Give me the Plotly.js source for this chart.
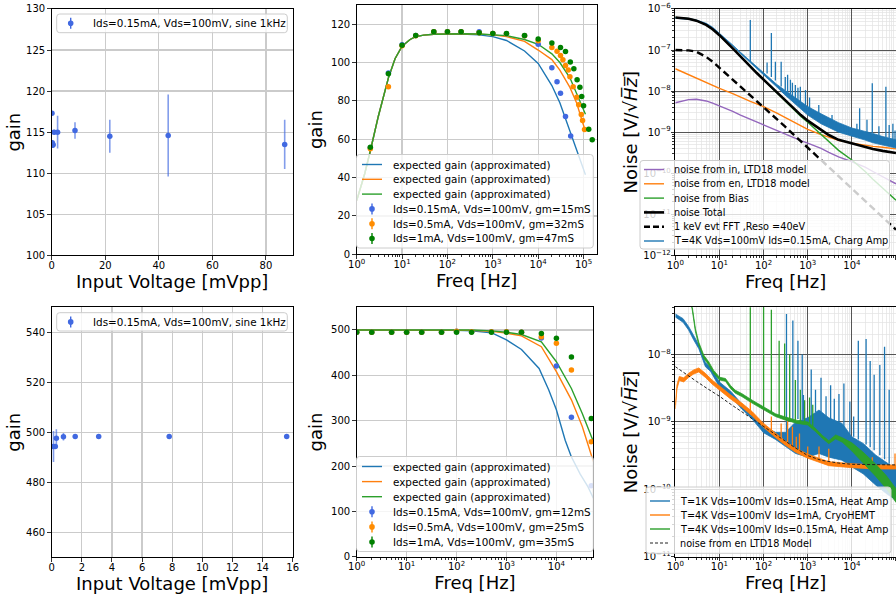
<!DOCTYPE html>
<html><head><meta charset="utf-8">
<script src="https://cdn.plot.ly/plotly-3.0.1.min.js"></script>
<style>html,body{margin:0;padding:0;background:#fff;overflow:hidden;} #chart{width:896px;height:599px;}</style>
</head><body><div id="chart"></div>
<script>
// ---------------- DATA ----------------
// Top-left: gain vs input voltage (sine 1 kHz)
const tlVin  = [0.1, 0.2, 0.4, 0.5, 0.9, 2.2, 8.7, 21.7, 43.5, 87];
const tlGain = [117.3, 113.7, 113.4, 113.5, 115.0, 115.0, 115.2, 114.5, 114.6, 113.5];
const tlErr  = [0.2, 0.3, 0.3, 0.3, 0.3, 2.0, 1.0, 2.0, 5.0, 3.0];

// Bottom-left
const blVin  = [0.12, 0.24, 0.31, 0.78, 1.56, 3.12, 7.8, 15.6];
const blGain = [494.3, 494.3, 497.6, 498.2, 498.3, 498.3, 498.3, 498.3];
const blErr  = [6.2, 0.5, 3.6, 1.5, 0.3, 0.3, 0.3, 0.3];

// Top-middle: expected gain curves
const tmFitFreq = [1, 1.5, 2, 3, 5, 7, 10, 15, 20, 30, 50, 100, 200, 500, 1000, 2000, 5000, 1e4, 2e4, 3e4, 5e4, 7e4, 1e5, 1.1e5];
const tmFit15 = [28, 42, 54, 72, 92, 102, 108.5, 112, 113.5, 114.3, 114.7, 114.9, 114.8, 114.4, 113.5, 111.5, 106, 99.5, 88, 79, 64, 54, 44, 41.5];
const tmFit32 = [28, 42, 54, 72, 92, 102, 108.5, 112, 113.5, 114.3, 114.7, 115, 115, 114.8, 114.4, 113.5, 111, 106.5, 101.5, 96, 87, 79, 68, 64];
const tmFit47 = [28, 42, 54, 72, 92, 102, 108.5, 112, 113.5, 114.3, 114.7, 115, 115, 114.9, 114.6, 114, 112, 109.5, 104.5, 100, 92, 84, 75, 73];
// Top-middle: measured points
const tmFreq15 = [2, 5, 10, 20, 50, 100, 200, 500, 1000, 2000, 5000, 1e4, 2e4, 2.6e4, 3.1e4, 4e4, 5.2e4];
const tmGain15 = [55.6, 94.5, 109.3, 114.1, 116.0, 116.0, 116.0, 116.0, 115.1, 115.0, 114.0, 109.5, 97.2, 90.0, 84.0, 71.8, 61.7];
const tmFreq32 = [2, 5, 10, 20, 50, 100, 200, 500, 1000, 2000, 5000, 1e4, 2e4, 2.6e4, 3.1e4, 3.5e4, 4e4, 4.6e4, 5e4, 5.9e4, 7.1e4, 7.8e4, 8.9e4, 9.5e4, 1.05e5];
const tmGain32 = [55.0, 87.3, 108.7, 114.0, 116.0, 116.0, 116.0, 115.5, 115.1, 115.0, 114.0, 111.3, 107.8, 105.9, 103.6, 101.4, 98.5, 96.1, 92.6, 87.4, 81.9, 78.0, 72.9, 69.8, 65.1];
const tmFreq47 = [2, 5, 10, 20, 50, 100, 200, 500, 1000, 2000, 5000, 1e4, 2e4, 3.1e4, 4e4, 5.1e4, 6.1e4, 7.2e4, 8.3e4, 9.1e4, 1e5, 1.3e5, 1.55e5];
const tmGain47 = [55.8, 94.1, 109.0, 114.1, 116.0, 116.0, 116.0, 115.5, 115.1, 115.1, 114.1, 112.3, 110.2, 107.8, 105.7, 100.3, 96.7, 91.0, 87.1, 82.3, 77.4, 65.2, 59.7];

// Bottom-middle: expected gain curves
const bmFitFreq12 = [1, 10, 100, 200, 500, 1000, 2000, 4500, 7000, 1e4, 1.5e4, 2e4, 3e4, 4.3e4, 5.5e4];
const bmFit12     = [500, 500, 499, 498, 494, 478, 457, 415, 368, 324, 257, 220, 182, 154, 129];
const bmFitFreq   = [1, 10, 100, 200, 500, 1000, 2000, 5000, 1e4, 2e4, 3.3e4, 5.5e4];
const bmFit25     = [500, 500, 500, 499, 497, 493, 487, 463, 408, 346, 287, 210];
const bmFit35     = [500, 500, 500, 500, 498, 495, 490, 474, 430, 371, 316, 254];
// Bottom-middle: measured points
const bmFreq   = [1, 2, 5, 10, 20, 50, 100, 200, 500, 1000, 2000, 5000, 1e4, 2e4, 5e4];
const bmGain12 = [495, 495, 495, 495, 495, 495, 497, 496, 496, 496, 495, 482.5, 420.7, 307.5, 156.7];
const bmGain25 = [495, 495, 495, 495, 495, 495, 497, 496, 496, 496, 495, 485, 470.7, 411.9, 253.7];
const bmGain35 = [495, 495, 495, 495, 495, 495, 495, 495, 495, 495, 495, 492, 481.8, 440.6, 304.5];

// Top-right: noise models and measured spectrum
const trFreq      = [1, 2, 3, 5, 7, 10, 20, 30, 50, 70, 100, 200, 300, 500, 700, 1000, 2000, 3000, 5000, 1e4, 2e4, 3e4, 5e4, 1e5];
const trNoiseIn   = [5.2e-9, 6.2e-9, 6.3e-9, 5.75e-9, 5.1e-9, 4.4e-9, 3.2e-9, 2.6e-9, 2.05e-9, 1.74e-9, 1.48e-9, 1.1e-9, 9.1e-10, 7.2e-10, 6.2e-10, 5.4e-10, 4.0e-10, 3.2e-10, 2.5e-10, 1.9e-10, 1.4e-10, 1.1e-10, 8.2e-11, 5.5e-11];
const trNoiseEn   = [3.5e-8, 2.5e-8, 2.05e-8, 1.6e-8, 1.38e-8, 1.17e-8, 8.7e-9, 7.1e-9, 5.6e-9, 4.9e-9, 4.2e-9, 2.9e-9, 2.3e-9, 1.74e-9, 1.41e-9, 1.17e-9, 8.7e-10, 7.4e-10, 6.3e-10, 5.4e-10, 4.8e-10, 4.5e-10, 4.3e-10, 3.9e-10];
const trNoiseBias = [6.2e-7, 5.8e-7, 5.2e-7, 4.1e-7, 3.2e-7, 2.3e-7, 1.1e-7, 6.9e-8, 4.0e-8, 2.75e-8, 1.9e-8, 9.0e-9, 5.7e-9, 3.4e-9, 2.4e-9, 1.74e-9, 8.9e-10, 6.0e-10, 3.6e-10, 2.1e-10, 1.1e-10, 7.1e-11, 4.3e-11, 2.2e-11];
const trNoiseTot  = [6.2e-7, 5.8e-7, 5.2e-7, 4.1e-7, 3.2e-7, 2.3e-7, 1.1e-7, 6.9e-8, 4.0e-8, 2.75e-8, 1.9e-8, 9.3e-9, 6.0e-9, 3.6e-9, 2.6e-9, 1.9e-9, 1.12e-9, 8.5e-10, 6.5e-10, 5.3e-10, 4.4e-10, 3.9e-10, 3.5e-10, 3.1e-10];
const trEvt1keV   = [1.0e-7, 9.8e-8, 9.1e-8, 6.8e-8, 5.2e-8, 3.7e-8, 1.9e-8, 1.32e-8, 8.1e-9, 5.9e-9, 4.2e-9, 2.1e-9, 1.4e-9, 8.4e-10, 6.0e-10, 4.2e-10, 2.1e-10, 1.4e-10, 8.4e-11, 4.2e-11, 2.1e-11, 1.4e-11, 8.4e-12, 4.2e-12];
const trMeasLo    = [5.9e-7, 5.6e-7, 5.1e-7, 4.2e-7, 3.3e-7, 2.4e-7, 1.25e-7, 8.2e-8, 4.8e-8, 3.5e-8, 2.45e-8, 1.25e-8, 8.2e-9, 5.0e-9, 3.6e-9, 2.6e-9, 1.6e-9, 1.3e-9, 1.0e-9, 8.0e-10, 6.4e-10, 5.5e-10, 4.8e-10, 4.1e-10];
const trMeasHi    = [6.2e-7, 5.9e-7, 5.4e-7, 4.5e-7, 3.6e-7, 2.6e-7, 1.32e-7, 8.8e-8, 5.3e-8, 3.9e-8, 2.8e-8, 1.45e-8, 1.05e-8, 7.0e-9, 5.3e-9, 4.2e-9, 2.8e-9, 2.2e-9, 1.7e-9, 1.26e-9, 1.05e-9, 9.3e-10, 7.8e-10, 6.5e-10];
const trSpikeFreq = [50, 120, 150, 185, 250, 310, 350, 405, 450, 525, 600, 680, 890, 1100, 1780, 3550, 1.3e4, 1.5e4, 2.2e4, 2.9e4, 4.1e4, 5.9e4, 7e4, 8.5e4, 9.5e4];
const trSpikeBase = [5.2e-8, 2.7e-8, 2.2e-8, 1.8e-8, 1.3e-8, 1.05e-8, 9.5e-9, 8.5e-9, 7.6e-9, 6.6e-9, 6.0e-9, 5.4e-9, 4.6e-9, 3.9e-9, 2.8e-9, 1.9e-9, 1.15e-9, 1.1e-9, 1.0e-9, 9.5e-10, 8.3e-10, 7.5e-10, 7.0e-10, 6.5e-10, 6.2e-10];
const trSpikeTop  = [5.4e-7, 5.0e-8, 2.6e-7, 5.2e-8, 5.2e-8, 2.2e-8, 2.5e-8, 1.9e-8, 1.6e-8, 1.4e-8, 1.2e-8, 1.28e-8, 1.07e-8, 7e-9, 4.6e-9, 2.6e-9, 1.6e-9, 3.8e-9, 2.0e-9, 1.55e-8, 1.4e-9, 1.28e-8, 1.5e-9, 1.6e-9, 1.1e-9];

// Bottom-right: T=1K Heat Amp (band envelope + spikes)
const br1KFreq = [1, 1.5, 2, 2.6, 3.4, 4.8, 6.3, 10, 18, 32, 55, 100, 186, 316, 530, 1000, 1800, 3000, 6000, 1e4, 1.8e4, 3.5e4, 6e4, 1e5];
const br1KLo   = [3.6e-8, 3.0e-8, 2.3e-8, 1.65e-8, 1.22e-8, 6.6e-9, 5.6e-9, 3.3e-9, 2.45e-9, 1.55e-9, 1.1e-9, 6.9e-10, 5.5e-10, 4.3e-10, 3.4e-10, 3.0e-10, 3.4e-10, 3.0e-10, 2.7e-10, 2.15e-10, 1.7e-10, 1.15e-10, 8.7e-11, 6.9e-11];
const br1KHi   = [4.0e-8, 3.4e-8, 2.6e-8, 1.9e-8, 1.4e-8, 7.6e-9, 6.4e-9, 3.9e-9, 2.85e-9, 1.85e-9, 1.35e-9, 8.6e-10, 7.0e-10, 7.0e-10, 1.0e-9, 1.15e-9, 1.5e-9, 1.15e-9, 9.5e-10, 6.0e-10, 4.8e-10, 3.2e-10, 2.5e-10, 2.0e-10];
const br1KSpikeFreq = [330, 460, 600, 750, 800, 1200, 1500, 2000, 2600, 3300, 4000, 5100, 6600, 9000, 1.1e4, 1.4e4, 2.1e4, 2.6e4, 3.2e4, 4.3e4, 5.5e4, 7e4];
const br1KSpikeBase = [7e-10, 1e-9, 1.1e-9, 1.1e-9, 1.1e-9, 1.2e-9, 1.4e-9, 1.4e-9, 1.2e-9, 1.1e-9, 1.0e-9, 9e-10, 8e-10, 6.5e-10, 6e-10, 5.5e-10, 4.6e-10, 4.2e-10, 3.8e-10, 3.2e-10, 2.8e-10, 2.4e-10];
const br1KSpikeTop  = [4.0e-8, 3.2e-8, 1.6e-8, 1.0e-8, 2.5e-9, 6e-9, 3.0e-9, 4.5e-9, 2.4e-9, 3.5e-9, 2.2e-9, 2.6e-9, 3.7e-9, 2.0e-9, 1.2e-9, 1.6e-8, 1.7e-8, 8e-9, 5e-9, 7e-9, 1.3e-8, 3e-9];
// Bottom-right: CryoHEMT
const brCryoFreq = [1, 1.09, 1.23, 1.55, 2, 2.6, 3.4, 4.8, 6.8, 10, 17.8, 32, 55, 100, 186, 316, 530, 1000, 1800, 3000, 1e4, 3.5e4, 1e5];
const brCryoLo   = [1.55e-9, 3.08e-9, 4.1e-9, 3.92e-9, 4.57e-9, 5.13e-9, 5.5e-9, 4.57e-9, 3.64e-9, 2.95e-9, 2.19e-9, 1.66e-9, 1.23e-9, 8.3e-10, 5.88e-10, 4.48e-10, 3.55e-10, 2.89e-10, 2.52e-10, 2.24e-10, 2.09e-10, 2.0e-10, 2.0e-10];
const brCryoHi   = [1.78e-9, 3.54e-9, 4.72e-9, 4.5e-9, 5.25e-9, 5.9e-9, 6.32e-9, 5.25e-9, 4.18e-9, 3.39e-9, 2.52e-9, 1.91e-9, 1.42e-9, 9.5e-10, 6.75e-10, 5.15e-10, 4.07e-10, 3.32e-10, 2.89e-10, 2.57e-10, 2.4e-10, 2.29e-10, 2.29e-10];
const brCryoSpikeFreq = [50, 150, 250, 350, 450, 550, 650, 1000, 1800, 3000, 2.9e4, 9.5e4];
const brCryoSpikeBase = [1.3e-9, 7e-10, 5.2e-10, 4.6e-10, 4.1e-10, 3.8e-10, 3.6e-10, 3.1e-10, 2.7e-10, 2.4e-10, 2.15e-10, 2.15e-10];
const brCryoSpikeTop  = [2.1e-9, 1.2e-9, 9.5e-10, 1.07e-9, 8.5e-10, 6e-10, 6.7e-10, 4.3e-10, 4.3e-10, 4.0e-10, 3.0e-10, 3.4e-10];
// Bottom-right: T=4K Heat Amp
const br4KFreq = [1, 2, 2.4, 2.85, 3.4, 4.4, 5.7, 7.4, 10, 13.7, 17.8, 23, 32, 55, 100, 186, 316, 580, 1000, 1500, 2150, 3000, 4300, 6100, 1e4, 1.76e4, 3.5e4, 6e4, 1e5];
const br4KLo   = [1.9e-7, 6.65e-8, 4.75e-8, 2.19e-8, 1.38e-8, 8.8e-9, 7.0e-9, 5.2e-9, 4.2e-9, 4.0e-9, 3.13e-9, 2.66e-9, 2.38e-9, 1.9e-9, 1.5e-9, 1.2e-9, 1.06e-9, 9.5e-10, 9.0e-10, 7.2e-10, 5.7e-10, 4.75e-10, 5.6e-10, 5.0e-10, 3.7e-10, 2.5e-10, 1.55e-10, 1.03e-10, 6.4e-11];
const br4KHi   = [2.1e-7, 7.35e-8, 5.25e-8, 2.42e-8, 1.52e-8, 9.8e-9, 7.8e-9, 5.8e-9, 4.6e-9, 4.4e-9, 3.47e-9, 2.94e-9, 2.63e-9, 2.1e-9, 1.66e-9, 1.32e-9, 1.18e-9, 1.05e-9, 1.0e-9, 8.0e-10, 6.3e-10, 5.25e-10, 6.4e-10, 5.8e-10, 4.9e-10, 3.6e-10, 2.35e-10, 1.6e-10, 1.02e-10];
const br4KSpikeFreq = [50, 100, 150, 225, 300, 390, 525, 680, 850, 1100, 1300];
const br4KSpikeBase = [2.0e-9, 1.58e-9, 1.4e-9, 1.25e-9, 1.15e-9, 1.08e-9, 1.02e-9, 9.8e-10, 9.6e-10, 9.4e-10, 8.6e-10];
const br4KSpikeTop  = [1e-7, 1e-7, 4.6e-8, 1.6e-8, 1.45e-8, 1.0e-8, 4.2e-9, 3.0e-9, 2.1e-9, 2.3e-9, 1.8e-9];
// Bottom-right: en model
const brModelFreq = [1, 2, 3, 5, 10, 20, 50, 100, 200, 500, 1000, 2000, 5000, 1e4, 1e5];
const brModelEn   = [6.6e-9, 4.9e-9, 4.0e-9, 3.2e-9, 2.4e-9, 1.74e-9, 1.15e-9, 8.5e-10, 6.3e-10, 4.2e-10, 3.16e-10, 2.7e-10, 2.45e-10, 2.35e-10, 2.3e-10];

// Legend labels
const lblSine = 'Ids=0.15mA, Vds=100mV, sine 1kHz';
const lblFit  = 'expected gain (approximated)';
const lblTop  = ['Ids=0.15mA, Vds=100mV, gm=15mS', 'Ids=0.5mA, Vds=100mV, gm=32mS', 'Ids=1mA, Vds=100mV, gm=47mS'];
const lblBot  = ['Ids=0.15mA, Vds=100mV, gm=12mS', 'Ids=0.5mA, Vds=100mV, gm=25mS', 'Ids=1mA, Vds=100mV, gm=35mS'];
const lblNoiseTop = ['noise from in, LTD18 model', 'noise from en, LTD18 model', 'noise from Bias', 'noise Total',
                     '1 keV evt FFT ,Reso =40eV', 'T=4K Vds=100mV Ids=0.15mA, Charg Amp'];
const lblNoiseBot = ['T=1K Vds=100mV Ids=0.15mA, Heat Amp', 'T=4K Vds=100mV Ids=1mA, CryoHEMT',
                     'T=4K Vds=100mV Ids=0.15mA, Heat Amp', 'noise from en LTD18 Model'];

// ---------------- HELPERS ----------------
const W = 896, H = 599;
const FONT = 'DejaVu Sans';
const C = {blue:'#1f77b4', orange:'#ff7f0e', green:'#2ca02c', purple:'#9467bd',
           royal:'#4169e1', dorange:'#ff8c00', dgreen:'#008000'};
const ERRC = 'rgba(65,105,225,0.65)';
function band(f, lo, hi, color, xa, ya, name) {
  return {x: f.concat(f.slice().reverse()), y: hi.concat(lo.slice().reverse()), name,
    xaxis: xa, yaxis: ya, mode: 'lines', fill: 'toself', fillcolor: color,
    line: {color: color, width: 0.8}, hoverinfo: 'skip'};
}
function spikes(f, base, top, color, name, xa, ya) {
  const x = [], y = [];
  f.forEach((v, i) => { x.push(v, v, null); y.push(base[i], top[i], null); });
  return {x, y, xaxis: xa, yaxis: ya, mode: 'lines', line: {color, width: 1.3},
    name, connectgaps: false, hoverinfo: 'skip'};
}
function line(x, y, color, name, xa, ya, lineStyle) {
  return {x, y, xaxis: xa, yaxis: ya, mode: 'lines', line: lineStyle || {color, width: 1.4},
    name, hoverinfo: 'skip'};
}
function pts(x, y, err, color, name, xa, ya) {
  const t = {x, y, xaxis: xa, yaxis: ya, mode: 'markers', marker: {color, size: 5.5},
    name, hoverinfo: 'skip'};
  if (err) t.error_y = {type: 'data', array: err, color: ERRC, thickness: 1.6, width: 0};
  return t;
}
function decades(d0, d1) {
  const v = [], t = [];
  for (let d = d0; d <= d1; d++) { v.push(Math.pow(10, d)); t.push('10<sup>' + (d < 0 ? '\u2212' + (-d) : d) + '</sup>'); }
  return {tickvals: v, ticktext: t};
}
function minors(d0, d1) {
  const v = [];
  for (let d = d0; d < d1; d++) for (let k = 2; k < 10; k++) v.push(k * Math.pow(10, d));
  return v;
}
const tickFont = {family: FONT, size: 10, color: '#000'};
const titleFont = {family: FONT, size: 18, color: '#000'};
function axis(extra) {
  return Object.assign({showline: true, linecolor: '#000', linewidth: 1, mirror: true,
    ticks: 'outside', ticklen: 3.5, tickwidth: 0.8, tickcolor: '#000', tickfont: tickFont,
    zeroline: false, showgrid: true, gridcolor: '#cbcbcb', gridwidth: 1.2, automargin: false,
    fixedrange: true}, extra);
}
function logX(dom, rng, anchor, grid) {
  const d = decades(0, 5);
  return axis({domain: dom, type: 'log', range: rng, anchor, tickmode: 'array',
    tickvals: d.tickvals, ticktext: d.ticktext, ticklabelstandoff: -3,
    gridcolor: grid ? '#555555' : '#cbcbcb', gridwidth: grid ? 1 : 1.2,
    minor: {tickmode: 'array', tickvals: minors(0, 5), ticks: 'outside', ticklen: 2, tickcolor: '#000',
            showgrid: !!grid, gridcolor: '#e2e2e2', gridwidth: 0.7},
    title: {text: 'Freq [Hz]', font: titleFont, standoff: 0}});
}
function logY(dom, rng, anchor, d0, d1) {
  const d = decades(d0, d1);
  return axis({domain: dom, type: 'log', range: rng, anchor, tickmode: 'array',
    tickvals: d.tickvals, ticktext: d.ticktext, gridcolor: '#555555', gridwidth: 1, ticklabelstandoff: -2,
    minor: {tickmode: 'array', tickvals: minors(d0 - 1, d1 + 1), ticks: 'outside', ticklen: 2, tickcolor: '#000',
            showgrid: true, gridcolor: '#e2e2e2', gridwidth: 0.7},
    title: {text: 'Noise [V/\u221a<i>H\u0305z\u0305</i>]', font: titleFont, standoff: 0}});
}

// Legend drawn as a framed box with handles and text (matplotlib-like spacing)
const shapes = [], annotations = [];
const px = v => v / W, py = v => 1 - v / H;
function roundedBox(l, t, r, b, rad) {
  const P = (x, y) => px(x) + ',' + py(y);
  return 'M' + P(l + rad, t) + ' L' + P(r - rad, t) + ' Q' + P(r, t) + ' ' + P(r, t + rad) +
    ' L' + P(r, b - rad) + ' Q' + P(r, b) + ' ' + P(r - rad, b) + ' L' + P(l + rad, b) +
    ' Q' + P(l, b) + ' ' + P(l, b - rad) + ' L' + P(l, t + rad) + ' Q' + P(l, t) + ' ' + P(l + rad, t) + ' Z';
}
function legendBox(box, entries) {
  shapes.push({type: 'path', xref: 'paper', yref: 'paper', path: roundedBox(box.l, box.t, box.r, box.b, 3),
    fillcolor: 'rgba(255,255,255,0.8)', line: {color: '#cccccc', width: 1}, layer: 'above'});
  entries.forEach((e, i) => {
    const cy = box.row0 + i * box.rowH;
    const hx0 = box.l + box.h0, hx1 = box.l + box.h0 + 20, cx = (hx0 + hx1) / 2;
    if (e.kind === 'line') {
      shapes.push({type: 'line', xref: 'paper', yref: 'paper', x0: px(hx0), x1: px(hx1), y0: py(cy), y1: py(cy),
        line: {color: e.color, width: e.width || 1.4, dash: e.dash || 'solid'}, layer: 'above'});
    } else {
      shapes.push({type: 'line', xref: 'paper', yref: 'paper', x0: px(cx), x1: px(cx), y0: py(cy - 5.5), y1: py(cy + 5.5),
        line: {color: e.color, width: 1.4}, layer: 'above'});
      shapes.push({type: 'circle', xref: 'paper', yref: 'paper', x0: px(cx - 2.8), x1: px(cx + 2.8),
        y0: py(cy + 2.8), y1: py(cy - 2.8), fillcolor: e.color, line: {width: 0}, layer: 'above'});
    }
    annotations.push({xref: 'paper', yref: 'paper', x: px(box.l + box.tx), y: py(cy), xanchor: 'left', yanchor: 'middle',
      text: e.text, showarrow: false, font: {family: FONT, size: box.fs, color: '#000'}});
  });
}

// ---------------- TRACES ----------------
const traces = [];
// top-left
traces.push(pts(tlVin, tlGain, tlErr, C.royal, lblSine, 'x', 'y'));
// top-middle
traces.push(line(tmFitFreq, tmFit15, C.blue, lblFit, 'x2', 'y2'));
traces.push(line(tmFitFreq, tmFit32, C.orange, lblFit, 'x2', 'y2'));
traces.push(line(tmFitFreq, tmFit47, C.green, lblFit, 'x2', 'y2'));
traces.push(pts(tmFreq15, tmGain15, null, C.royal, lblTop[0], 'x2', 'y2'));
traces.push(pts(tmFreq32, tmGain32, null, C.dorange, lblTop[1], 'x2', 'y2'));
traces.push(pts(tmFreq47, tmGain47, null, C.dgreen, lblTop[2], 'x2', 'y2'));
// top-right
traces.push(line(trFreq, trNoiseIn, C.purple, lblNoiseTop[0], 'x3', 'y3'));
traces.push(line(trFreq, trNoiseEn, C.orange, lblNoiseTop[1], 'x3', 'y3'));
traces.push(line(trFreq, trNoiseBias, C.green, lblNoiseTop[2], 'x3', 'y3'));
traces.push(line(trFreq, trEvt1keV, '#000', lblNoiseTop[4], 'x3', 'y3', {color: '#000', width: 2.4, dash: '7px,4px'}));
traces.push(band(trFreq, trMeasLo, trMeasHi, C.blue, 'x3', 'y3', lblNoiseTop[5]));
traces.push(spikes(trSpikeFreq, trSpikeBase, trSpikeTop, C.blue, lblNoiseTop[5], 'x3', 'y3'));
traces.push(line(trFreq, trNoiseTot, '#000', lblNoiseTop[3], 'x3', 'y3', {color: '#000', width: 2.6}));
// bottom-left
traces.push(pts(blVin, blGain, blErr, C.royal, lblSine, 'x4', 'y4'));
// bottom-middle
traces.push(line(bmFitFreq12, bmFit12, C.blue, lblFit, 'x5', 'y5'));
traces.push(line(bmFitFreq, bmFit25, C.orange, lblFit, 'x5', 'y5'));
traces.push(line(bmFitFreq, bmFit35, C.green, lblFit, 'x5', 'y5'));
traces.push(pts(bmFreq, bmGain12, null, C.royal, lblBot[0], 'x5', 'y5'));
traces.push(pts(bmFreq, bmGain25, null, C.dorange, lblBot[1], 'x5', 'y5'));
traces.push(pts(bmFreq, bmGain35, null, C.dgreen, lblBot[2], 'x5', 'y5'));
// bottom-right
traces.push(band(br1KFreq, br1KLo, br1KHi, C.blue, 'x6', 'y6', lblNoiseBot[0]));
traces.push(spikes(br1KSpikeFreq, br1KSpikeBase, br1KSpikeTop, C.blue, lblNoiseBot[0], 'x6', 'y6'));
traces.push(band(brCryoFreq, brCryoLo, brCryoHi, C.orange, 'x6', 'y6', lblNoiseBot[1]));
traces.push(spikes(brCryoSpikeFreq, brCryoSpikeBase, brCryoSpikeTop, C.orange, lblNoiseBot[1], 'x6', 'y6'));
traces.push(band(br4KFreq, br4KLo, br4KHi, C.green, 'x6', 'y6', lblNoiseBot[2]));
traces.push(spikes(br4KSpikeFreq, br4KSpikeBase, br4KSpikeTop, C.green, lblNoiseBot[2], 'x6', 'y6'));
traces.push(line(brModelFreq, brModelEn, '#000', lblNoiseBot[3], 'x6', 'y6', {color: '#222', width: 1, dash: '3px,2px'}));

// ---------------- LEGENDS ----------------
legendBox({l: 56.7, t: 14, r: 287.3, b: 32.7, row0: 23.2, rowH: 14.6, h0: 4, tx: 34, fs: 10.4},
  [{text: lblSine, kind: 'err', color: C.royal}]);
legendBox({l: 56.7, t: 312.7, r: 287.3, b: 331, row0: 321.9, rowH: 14.6, h0: 4, tx: 34, fs: 10.4},
  [{text: lblSine, kind: 'err', color: C.royal}]);
legendBox({l: 356.5, t: 154.5, r: 593.3, b: 248, row0: 164.5, rowH: 14.8, h0: 5.5, tx: 34.5, fs: 10.4},
  [{text: lblFit, kind: 'line', color: C.blue}, {text: lblFit, kind: 'line', color: C.orange},
   {text: lblFit, kind: 'line', color: C.green}, {text: lblTop[0], kind: 'err', color: C.royal},
   {text: lblTop[1], kind: 'err', color: C.dorange}, {text: lblTop[2], kind: 'err', color: C.dgreen}]);
legendBox({l: 356.5, t: 456.5, r: 593.3, b: 551.5, row0: 466.5, rowH: 15.1, h0: 5.5, tx: 34.5, fs: 10.4},
  [{text: lblFit, kind: 'line', color: C.blue}, {text: lblFit, kind: 'line', color: C.orange},
   {text: lblFit, kind: 'line', color: C.green}, {text: lblBot[0], kind: 'err', color: C.royal},
   {text: lblBot[1], kind: 'err', color: C.dorange}, {text: lblBot[2], kind: 'err', color: C.dgreen}]);
legendBox({l: 640, t: 160.5, r: 889.5, b: 249, row0: 169.5, rowH: 14.3, h0: 4, tx: 32, fs: 9.7},
  [{text: lblNoiseTop[0], kind: 'line', color: C.purple}, {text: lblNoiseTop[1], kind: 'line', color: C.orange},
   {text: lblNoiseTop[2], kind: 'line', color: C.green}, {text: lblNoiseTop[3], kind: 'line', color: '#000', width: 2.6},
   {text: lblNoiseTop[4], kind: 'line', color: '#000', width: 2.4, dash: '6px,3px'},
   {text: lblNoiseTop[5], kind: 'line', color: C.blue}]);
legendBox({l: 646, t: 487, r: 891, b: 553.3, row0: 501, rowH: 14, h0: 4, tx: 31.5, fs: 9.7},
  [{text: lblNoiseBot[0], kind: 'line', color: C.blue}, {text: lblNoiseBot[1], kind: 'line', color: C.orange},
   {text: lblNoiseBot[2], kind: 'line', color: C.green}, {text: lblNoiseBot[3], kind: 'line', color: '#222', width: 1, dash: '3px,2px'}]);

// ---------------- LAYOUT ----------------
const layout = {
  width: W, height: H, margin: {l: 0, r: 0, t: 0, b: 0}, showlegend: false,
  paper_bgcolor: '#fff', plot_bgcolor: '#fff', font: {family: FONT, color: '#000'},
  xaxis:  axis({domain: [0.0577, 0.3267], range: [0, 90], dtick: 20, tick0: 0, anchor: 'y', ticklabelstandoff: -3,
                title: {text: 'Input Voltage [mVpp]', font: titleFont, standoff: 0}}),
  yaxis:  axis({domain: [0.5738, 0.985], range: [100, 130], dtick: 5, tick0: 100, anchor: 'x',
                title: {text: 'gain', font: titleFont, standoff: 0}}),
  xaxis2: logX([0.3981, 0.666], [0, 5.29], 'y2', false),
  yaxis2: axis({domain: [0.5755, 0.9917], range: [0, 130], dtick: 20, tick0: 0, anchor: 'x2',
                title: {text: 'gain', font: titleFont, standoff: 3}}),
  xaxis3: logX([0.7537, 1.0], [0, 5], 'y3', true),
  yaxis3: logY([0.5738, 0.985], [-12, -6], 'x3', -12, -6),
  xaxis4: axis({domain: [0.0577, 0.3267], range: [0, 16], dtick: 2, tick0: 0, anchor: 'y4', ticklabelstandoff: -3,
                title: {text: 'Input Voltage [mVpp]', font: titleFont, standoff: 0}}),
  yaxis4: axis({domain: [0.0696, 0.487], range: [450, 550], dtick: 20, tick0: 460, anchor: 'x4',
                title: {text: 'gain', font: titleFont, standoff: 0}}),
  xaxis5: logX([0.3981, 0.6622], [0, 4.74], 'y5', false),
  yaxis5: axis({domain: [0.0706, 0.487], range: [0, 550], dtick: 100, tick0: 0, anchor: 'x5',
                title: {text: 'gain', font: titleFont, standoff: 3}}),
  xaxis6: logX([0.7537, 1.0], [0, 5], 'y6', true),
  yaxis6: logY([0.0706, 0.487], [-11, -7.3], 'x6', -11, -8),
  shapes, annotations
};
Plotly.newPlot('chart', traces, layout, {displayModeBar: false, staticPlot: true});
</script></body></html>
